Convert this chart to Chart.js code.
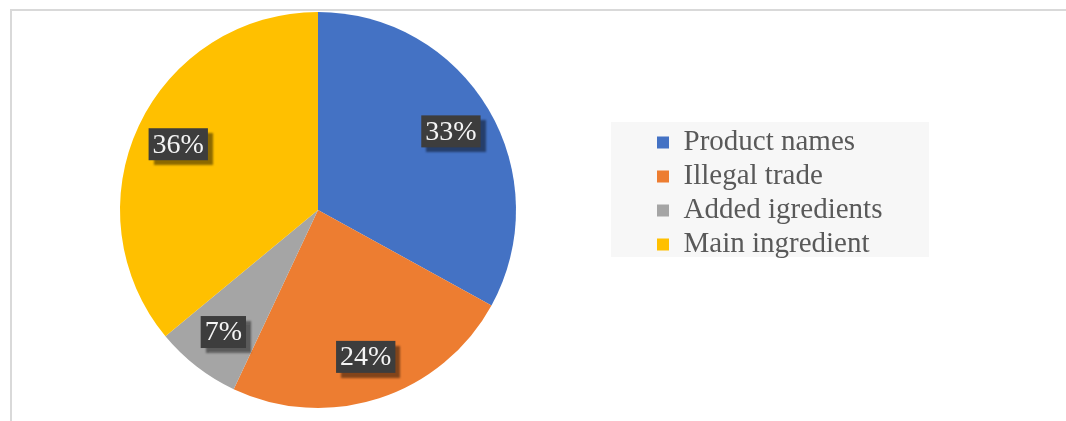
<!DOCTYPE html>
<html>
<head>
<meta charset="utf-8">
<script src="https://cdn.jsdelivr.net/npm/chart.js@4.4.1/dist/chart.umd.min.js"></script>
<style>
  html, body { margin: 0; padding: 0; background: #ffffff; }
  #wrap { position: relative; width: 1066px; height: 421px; }
</style>
</head>
<body>
<div id="wrap"><canvas id="chart" width="1066" height="421"></canvas></div>
<script>
// Share of cases by category (percent)
const categories = ['Product names', 'Illegal trade', 'Added igredients', 'Main ingredient'];
const shares = [33, 24, 7, 36];
const sliceColors = ['#4472C4', '#ED7D31', '#A5A5A5', '#FFC000'];

const SERIF = "'Liberation Serif', 'Times New Roman', serif";
const LEGEND_FONT_SIZE = 29;
const LEGEND_PAD = 5;
const LEGEND_BOX = 12;

// width of the legend column so the layout can place it
const measureCtx = document.createElement('canvas').getContext('2d');
measureCtx.font = LEGEND_FONT_SIZE + 'px ' + SERIF;
const maxText = Math.max(...categories.map(t => measureCtx.measureText(t).width));
const legendWidth = LEGEND_PAD + LEGEND_BOX + LEGEND_FONT_SIZE / 2 + maxText + 10;
const legendLeft = 652;
const padRight = 1066 - legendLeft - legendWidth;

// widen the plot area to the left so the pie sits further left of the legend
const plotShift = {
  id: 'plotShift',
  afterLayout(chart) {
    const ca = chart.chartArea;
    ca.left -= 16;
    ca.width = ca.right - ca.left;
  }
};

// frame lines along the top and left edges
const framePlugin = {
  id: 'frame',
  beforeDraw(chart) {
    const ctx = chart.ctx;
    ctx.save();
    ctx.strokeStyle = '#d9d9d9';
    ctx.lineWidth = 2;
    ctx.beginPath();
    ctx.moveTo(11, 421);
    ctx.lineTo(11, 10);
    ctx.lineTo(1066, 10);
    ctx.stroke();
    ctx.restore();
  }
};

// light panel behind the legend entries
const legendPanel = {
  id: 'legendPanel',
  beforeDraw(chart) {
    const lg = chart.legend;
    if (!lg || !lg.legendHitBoxes || !lg.legendHitBoxes.length) return;
    const hb = lg.legendHitBoxes;
    const first = hb[0], last = hb[hb.length - 1];
    const x0 = first.left - 46;
    const y0 = first.top - 6;
    const y1 = last.top + last.height - 2;
    const ctx = chart.ctx;
    ctx.save();
    ctx.fillStyle = '#f7f7f7';
    ctx.fillRect(x0, y0, 318, y1 - y0);
    ctx.restore();
  }
};

// percentage tags on each slice
const sliceTags = {
  id: 'sliceTags',
  afterDatasetsDraw(chart) {
    const meta = chart.getDatasetMeta(0);
    const data = chart.data.datasets[0].data;
    const ctx = chart.ctx;
    ctx.save();
    ctx.font = '28px ' + SERIF;
    ctx.textAlign = 'center';
    ctx.textBaseline = 'middle';
    meta.data.forEach((arc, i) => {
      const p = arc.getProps(['x', 'y', 'startAngle', 'endAngle', 'outerRadius'], true);
      const mid = (p.startAngle + p.endAngle) / 2;
      const r = p.outerRadius * 0.78;
      const cx = p.x + Math.cos(mid) * r;
      const cy = p.y + Math.sin(mid) * r;
      const text = data[i] + '%';
      const w = ctx.measureText(text).width + 8;
      const h = 32;
      ctx.save();
      ctx.shadowColor = 'rgba(0,0,0,0.45)';
      ctx.shadowOffsetX = 5;
      ctx.shadowOffsetY = 5;
      ctx.shadowBlur = 2;
      ctx.fillStyle = '#3d3d3d';
      ctx.fillRect(cx - w / 2, cy - h / 2, w, h);
      ctx.restore();
      ctx.fillStyle = '#f4f4f4';
      ctx.fillText(text, cx, cy + 1);
    });
    ctx.restore();
  }
};

new Chart(document.getElementById('chart'), {
  type: 'pie',
  data: {
    labels: categories,
    datasets: [{
      data: shares,
      backgroundColor: sliceColors,
      borderWidth: 0,
      hoverOffset: 0,
      offset: 0
    }]
  },
  options: {
    responsive: false,
    animation: false,
    events: [],
    layout: { padding: { left: 0, right: padRight, top: 12, bottom: 13 } },
    plugins: {
      tooltip: { enabled: false },
      legend: {
        position: 'right',
        align: 'start',
        title: { display: true, text: '', font: { size: 10 }, padding: { top: 99, bottom: 0 } },
        labels: {
          boxWidth: LEGEND_BOX,
          boxHeight: LEGEND_BOX,
          padding: LEGEND_PAD,
          color: '#595959',
          font: { family: SERIF, size: LEGEND_FONT_SIZE }
        }
      }
    }
  },
  plugins: [plotShift, framePlugin, legendPanel, sliceTags]
});
</script>
</body>
</html>
